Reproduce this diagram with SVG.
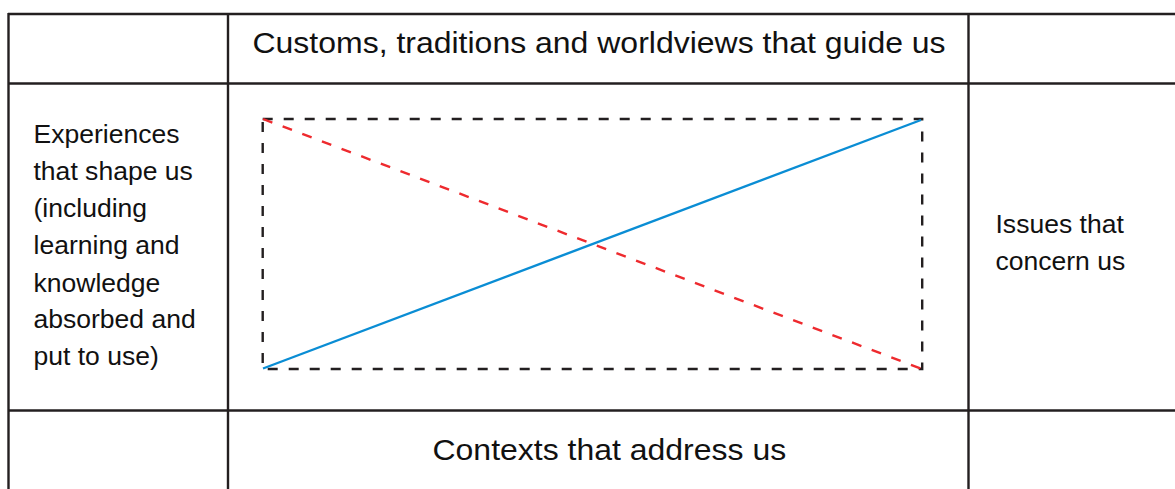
<svg xmlns="http://www.w3.org/2000/svg" width="1175" height="489" viewBox="0 0 1175 489">
<style>
.grid{stroke:#231f20;stroke-width:2.4;fill:none}
.lbl{font-family:"Liberation Sans",Arial,sans-serif;fill:#111}
.big{font-size:30px}
.small{font-size:24.9px}
.box{stroke:#231f20;stroke-width:2.4;fill:none;stroke-dasharray:10 11}
.red{stroke:#ee2a2e;stroke-width:2.4;fill:none;stroke-dasharray:10 11}
.blue{stroke:#0a8dd4;stroke-width:2.4;fill:none}
</style>
<rect width="1175" height="489" fill="#fff"/>
<g id="grid">
<line class="grid" x1="8" y1="14" x2="1175" y2="14"/>
<line class="grid" x1="8" y1="83.5" x2="1175" y2="83.5"/>
<line class="grid" x1="8" y1="410.5" x2="1175" y2="410.5"/>
<line class="grid" x1="8.5" y1="13" x2="8.5" y2="489"/>
<line class="grid" x1="228" y1="13" x2="228" y2="489"/>
<line class="grid" x1="968.5" y1="13" x2="968.5" y2="489"/>
</g>
<g id="top-label">
<text class="lbl big" transform="translate(252.5,53.3) scale(1.066,1)">Customs, traditions and worldviews that guide us</text>
</g>
<g id="left-label">
<text class="lbl small" transform="translate(33.5,0) scale(1.066,1)">
<tspan x="0" y="142.7">Experiences</tspan>
<tspan x="0" y="180">that shape us</tspan>
<tspan x="0" y="216.7">(including</tspan>
<tspan x="0" y="254">learning and</tspan>
<tspan x="0" y="291.7">knowledge</tspan>
<tspan x="0" y="328.3">absorbed and</tspan>
<tspan x="0" y="365">put to use)</tspan>
</text>
</g>
<g id="right-label">
<text class="lbl small" transform="translate(995.5,0) scale(1.066,1)">
<tspan x="0" y="233.3">Issues that</tspan>
<tspan x="0" y="270.3">concern us</tspan>
</text>
</g>
<g id="bottom-label">
<text class="lbl big" transform="translate(432.5,460) scale(1.066,1)">Contexts that address us</text>
</g>
<g id="center-box">
<rect class="box" x="262.7" y="119" width="659.5" height="250"/>
</g>
<g id="connectors">
<line class="red" x1="263" y1="119" x2="922" y2="369"/>
<line class="blue" x1="263" y1="368.5" x2="921" y2="120"/>
</g>
</svg>
